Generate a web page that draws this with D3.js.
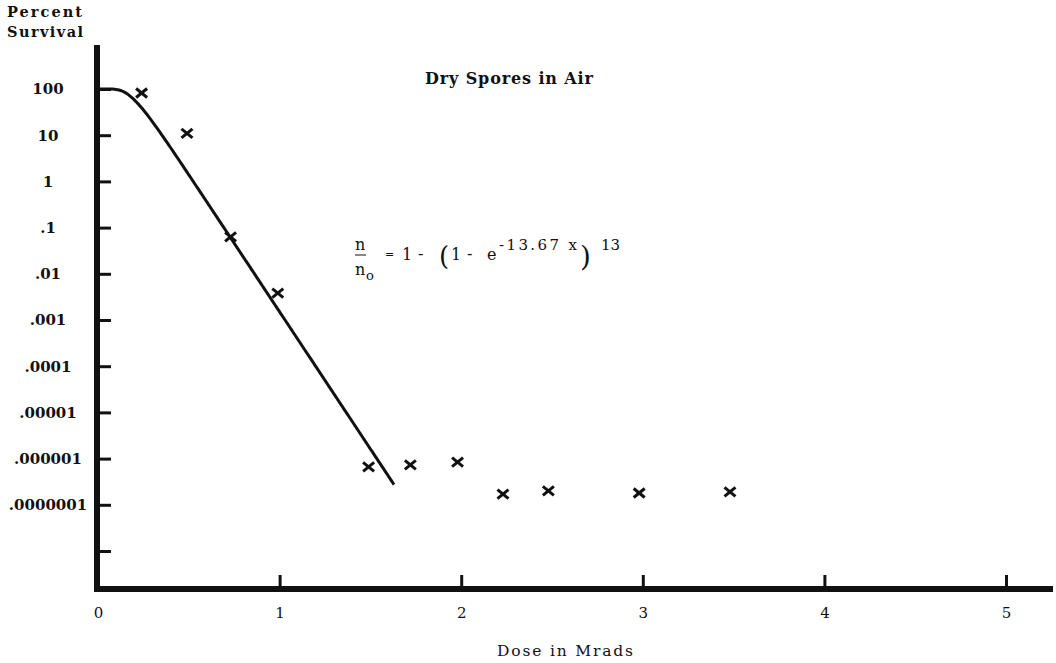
<!DOCTYPE html>
<html>
<head>
<meta charset="utf-8">
<script src="https://cdn.jsdelivr.net/npm/d3@7"></script>
<style>
  html, body { margin: 0; padding: 0; background: #fff; }
  svg { display: block; }
  text { font-family: "DejaVu Serif", "Liberation Serif", serif; fill: #111; }
</style>
</head>
<body>
<svg id="chart" width="1056" height="663"></svg>
<script>
// Measured survival of dry spores irradiated in air
const doses    = [0.24, 0.49, 0.73, 0.99, 1.49, 1.72, 1.98, 2.23, 2.48, 2.98, 3.48];   // Mrads
const survival = [82, 11, 0.063, 0.0038, 6.6e-7, 7.3e-7, 8.4e-7, 1.7e-7, 2.0e-7, 1.8e-7, 1.9e-7]; // percent

// Axis ticks
const doseTicks = [0, 1, 2, 3, 4, 5];
const doseTickLabels = ["0", "1", "2", "3", "4", "5"];
const survivalTicks = [100, 10, 1, 0.1, 0.01, 0.001, 1e-4, 1e-5, 1e-6, 1e-7, 1e-8];
const survivalTickLabels = ["100", "10", "1", ".1", ".01", ".001", ".0001", ".00001", ".000001", ".0000001", ""];

// Multi-target fit printed on the chart: n/n0 = 1 - (1 - e^(-k x))^m
const fitK = 13.67;
const fitM = 13;
const fitDoseMax = 1.63;

const svg = d3.select("#chart");
const ink = "#111";

const x = d3.scaleLinear()
  .domain([0, 5])
  .range([98, 1006]);

const y = d3.scaleLog()
  .domain([100, 1e-8])
  .range([89, 551]);

const axisY = 589;

// Y axis ticks and labels
const gy = svg.append("g")
  .attr("transform", `translate(${x(0)},0)`)
  .call(d3.axisLeft(y)
    .tickValues(survivalTicks)
    .tickFormat((d, i) => survivalTickLabels[i])
    .tickSizeInner(-13)
    .tickSizeOuter(0));
gy.select(".domain").remove();
gy.selectAll(".tick line").attr("stroke", ink).attr("stroke-width", 3);
gy.selectAll(".tick text")
  .attr("x", 48 - x(0))
  .attr("text-anchor", "middle")
  .attr("font-size", 15)
  .attr("font-weight", "bold")
  .style("font-family", '"DejaVu Serif", serif')
  .attr("fill", ink);

// X axis ticks and labels
const gx = svg.append("g")
  .attr("transform", `translate(0,${axisY})`)
  .call(d3.axisBottom(x)
    .tickValues(doseTicks)
    .tickFormat((d, i) => doseTickLabels[i])
    .tickSizeInner(-14)
    .tickSizeOuter(0)
    .tickPadding(18));
gx.select(".domain").remove();
gx.selectAll(".tick line").attr("stroke", ink).attr("stroke-width", 3)
  .filter(d => d === 0).remove();
gx.selectAll(".tick text")
  .attr("font-size", 15)
  .style("font-family", '"DejaVu Serif", serif')
  .attr("fill", ink);

// Heavy axis rules
svg.append("line")
  .attr("x1", x(0) - 1).attr("x2", x(0) - 1)
  .attr("y1", 45).attr("y2", axisY + 3)
  .attr("stroke", ink).attr("stroke-width", 6);
svg.append("line")
  .attr("x1", x(0) - 4).attr("x2", 1053)
  .attr("y1", axisY).attr("y2", axisY)
  .attr("stroke", ink).attr("stroke-width", 6);

// Fitted curve from the printed equation (percent survival)
const fitDoses = d3.range(0, fitDoseMax + 1e-9, 0.01);
const fitLine = d3.line()
  .x(d => x(d))
  .y(d => y(100 * (1 - Math.pow(1 - Math.exp(-fitK * d), fitM))))
  .curve(d3.curveMonotoneX);
svg.append("path")
  .datum(fitDoses)
  .attr("d", fitLine)
  .attr("fill", "none")
  .attr("stroke", ink)
  .attr("stroke-width", 3)
  .attr("stroke-linejoin", "round");

// Data markers (x)
const pts = doses.map((d, i) => ({ dose: d, pct: survival[i] }));
const mk = svg.append("g").attr("stroke", ink).attr("stroke-width", 3);
pts.forEach(p => {
  const cx = x(p.dose), cy = y(p.pct);
  mk.append("line").attr("x1", cx - 5.5).attr("y1", cy - 4.5).attr("x2", cx + 5.5).attr("y2", cy + 4.5);
  mk.append("line").attr("x1", cx - 5.5).attr("y1", cy + 4.5).attr("x2", cx + 5.5).attr("y2", cy - 4.5);
});

// Axis titles
svg.append("text").attr("x", 7).attr("y", 17)
  .attr("font-size", 14.5).attr("font-weight", "bold")
  .attr("textLength", 75).attr("lengthAdjust", "spacing")
  .text("Percent");
svg.append("text").attr("x", 7).attr("y", 37)
  .attr("font-size", 14.5).attr("font-weight", "bold")
  .attr("textLength", 76).attr("lengthAdjust", "spacing")
  .text("Survival");
svg.append("text").attr("x", 497).attr("y", 656)
  .attr("font-size", 15.5)
  .attr("textLength", 136).attr("lengthAdjust", "spacing")
  .text("Dose in Mrads");

// Panel title
svg.append("text").attr("x", 425).attr("y", 84)
  .attr("font-size", 16).attr("font-weight", "bold")
  .attr("textLength", 168).attr("lengthAdjust", "spacing")
  .text("Dry Spores in Air");

// Equation label
const eq = svg.append("g").attr("font-size", 16);
eq.append("text").attr("x", 355).attr("y", 250).text("n");
eq.append("line").attr("x1", 355).attr("x2", 366).attr("y1", 255).attr("y2", 255)
  .attr("stroke", ink).attr("stroke-width", 1);
eq.append("text").attr("x", 355).attr("y", 275).text("n");
eq.append("text").attr("x", 366).attr("y", 280).attr("font-size", 13).text("o");
eq.append("text").attr("x", 385).attr("y", 258).attr("font-size", 11).text("=");
eq.append("text").attr("x", 402).attr("y", 260).text("1");
eq.append("text").attr("x", 418).attr("y", 259).text("-");
eq.append("text").attr("x", 439).attr("y", 265).attr("font-size", 26).text("(");
eq.append("text").attr("x", 451).attr("y", 260).text("1");
eq.append("text").attr("x", 467).attr("y", 259).text("-");
eq.append("text").attr("x", 487).attr("y", 260).text("e");
eq.append("text").attr("x", 499).attr("y", 250).attr("font-size", 15)
  .attr("textLength", 78).attr("lengthAdjust", "spacing")
  .text(`-${fitK.toFixed(2)} x`);
eq.append("text").attr("x", 580).attr("y", 266).attr("font-size", 28).text(")");
eq.append("text").attr("x", 601).attr("y", 250).attr("font-size", 15).text(String(fitM));
</script>
</body>
</html>
